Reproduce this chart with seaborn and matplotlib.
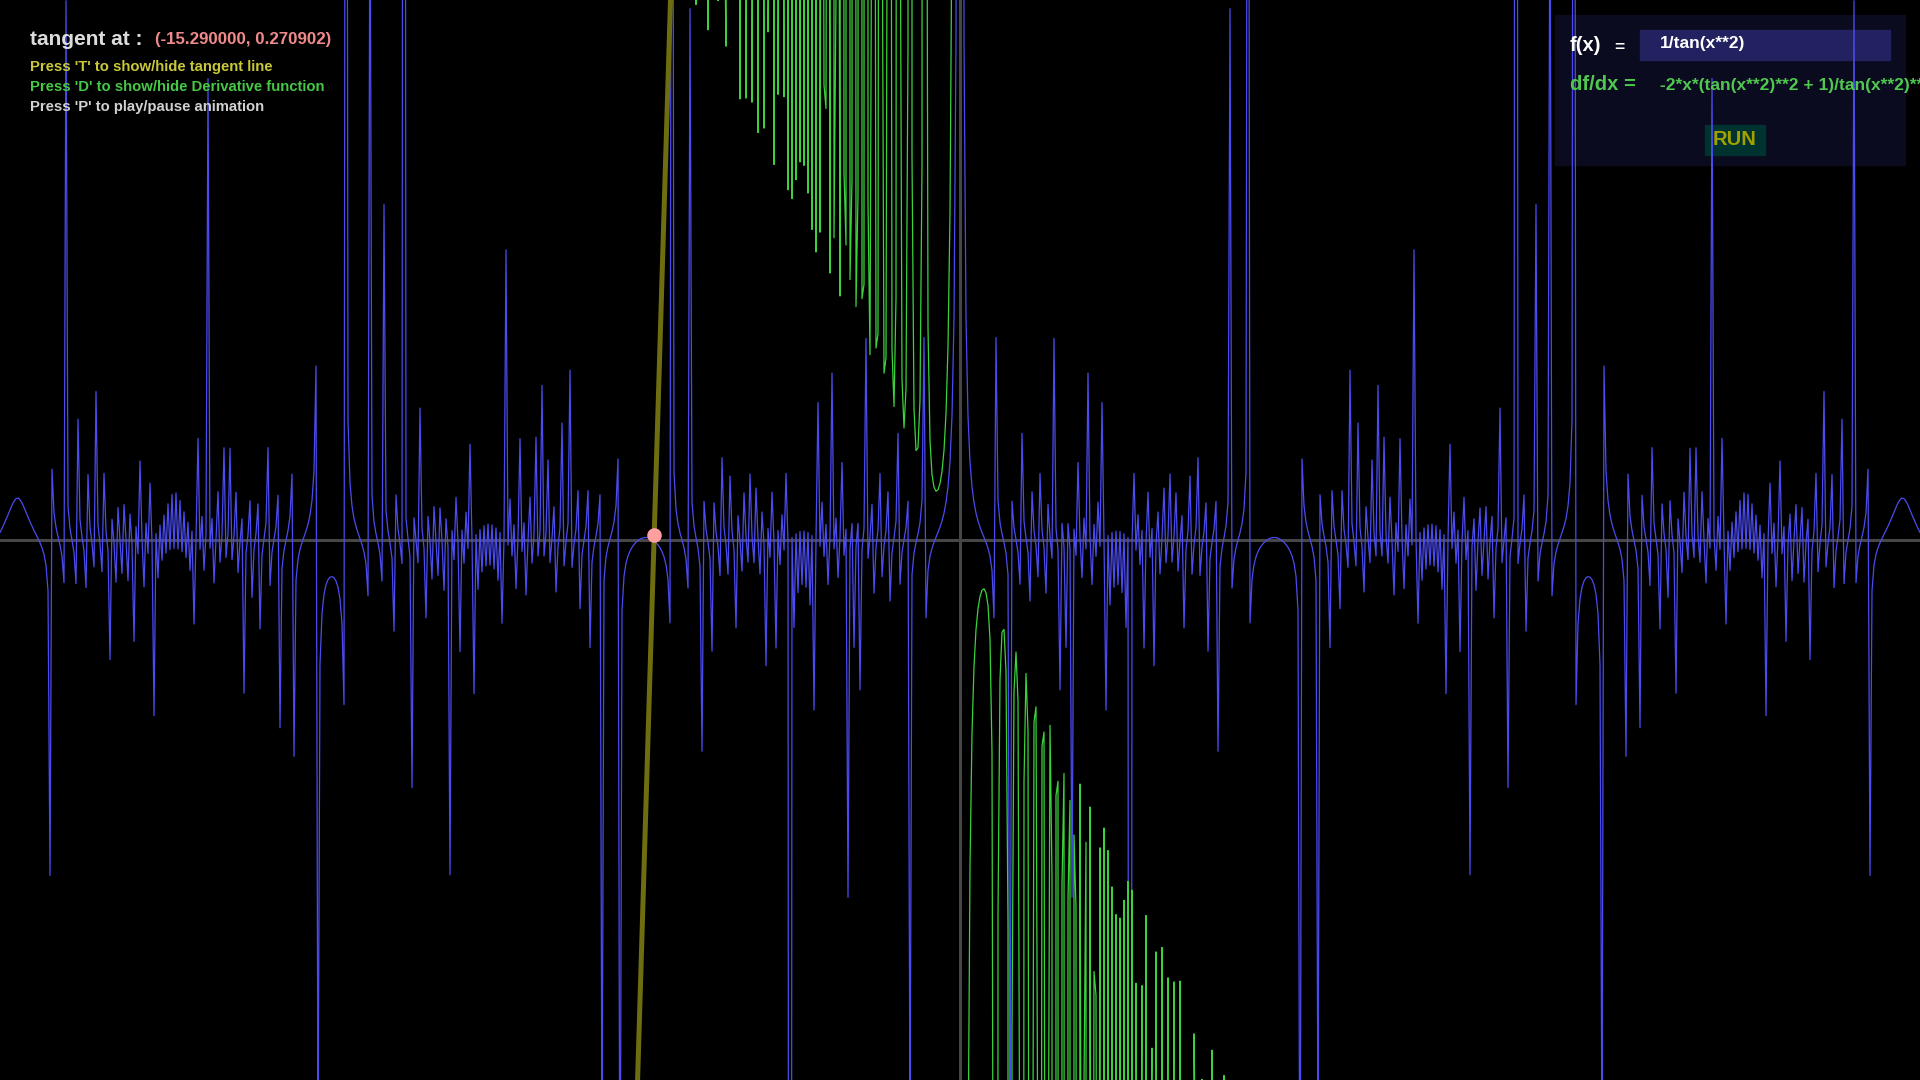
import numpy as np
import pandas as pd
import matplotlib.pyplot as plt
import seaborn as sns
from matplotlib.patches import Rectangle

sns.set_style("dark")
plt.rcParams["font.family"] = ["Liberation Sans", "DejaVu Sans"]

# view: 20 px per unit
x_min, x_max = -48.0, 48.0
y_min, y_max = -27.0, 27.0
x_step = 0.1

fx_label = "1/tan(x**2)"
dfdx_label = "-2*x*(tan(x**2)**2 + 1)/tan(x**2)**2"
tangent_x = -15.29

help_lines = [
    "Press 'T' to show/hide tangent line",
    "Press 'D' to show/hide Derivative function",
    "Press 'P' to play/pause animation",
]
help_colors = ["#c8c83c", "#46c846", "#d2d2d2"]

# %% curves from the formula shown in the chart
xs = np.arange(-480, 481) * x_step
with np.errstate(divide="ignore", invalid="ignore"):
    f = 1 / np.tan(xs ** 2)
    df = -2 * xs * (np.tan(xs ** 2) ** 2 + 1) / np.tan(xs ** 2) ** 2
f = np.where(np.isfinite(f), np.clip(f, -1e4, 1e4), np.nan)
df = np.where(np.isfinite(df), np.clip(df, -1e4, 1e4), np.nan)
curves = pd.DataFrame({"x": xs, "f": f, "df": df})
# break the lines where the function is undefined (x = 0)
curves["seg_f"] = curves["f"].isna().cumsum()
curves["seg_df"] = curves["df"].isna().cumsum()

ty = 1 / np.tan(tangent_x ** 2)
slope = -2 * tangent_x * (np.tan(tangent_x ** 2) ** 2 + 1) / np.tan(tangent_x ** 2) ** 2
tang = pd.DataFrame({"x": [x_min, x_max]})
tang["y"] = ty + slope * (tang["x"] - tangent_x)

# %%
fig = plt.figure(figsize=(19.2, 10.8), dpi=100, facecolor="black")
ax = fig.add_axes([0, 0, 1, 1])
ax.set_facecolor("black")
ax.set_axis_off()

# panel behind the curves
ax.add_patch(Rectangle((1555 / 1920, 1 - 165 / 1080), 350 / 1920, 150 / 1080,
                       transform=ax.transAxes, color="#0b0b1f", zorder=0))
ax.add_patch(Rectangle((1640 / 1920, 1 - 60 / 1080), 250 / 1920, 30 / 1080,
                       transform=ax.transAxes, color="#222260", zorder=0.5))
ax.add_patch(Rectangle((1705 / 1920, 1 - 155 / 1080), 60 / 1920, 30 / 1080,
                       transform=ax.transAxes, color="#003230", zorder=0.5))

ax.axhline(0, color="#464646", lw=2.2, zorder=1)
ax.axvline(0, color="#464646", lw=2.2, zorder=1)

sns.lineplot(data=curves.dropna(subset=["f"]), x="x", y="f", units="seg_f", ax=ax,
             color="#4b4bf0", lw=0.9, estimator=None, sort=False, zorder=2)
sns.lineplot(data=curves.dropna(subset=["df"]), x="x", y="df", units="seg_df", ax=ax,
             color="#3cd23c", lw=0.9, estimator=None, sort=False, zorder=2)
sns.lineplot(data=tang, x="x", y="y", ax=ax, color="#6e6e10", lw=3.6,
             estimator=None, sort=False, zorder=3)
ax.scatter([tangent_x], [ty], s=110, color="#ff9f9f", zorder=4, linewidths=0)
ax.set_xlim(x_min, x_max)
ax.set_ylim(y_min, y_max)

# %% texts (pixel positions from the top-left)
def put(px, py, s, color, size, weight="bold", va="baseline"):
    fig.text(px / 1920, 1 - py / 1080, s, color=color, fontsize=size,
             fontweight=weight, va=va, ha="left", zorder=10)

put(30, 45, "tangent at :", "#dcdcdc", 15)
put(155, 44, f"({tangent_x:.6f}, {ty:.6f})", "#f08a8a", 12.2)
for i, (s, c) in enumerate(zip(help_lines, help_colors)):
    put(30, 71 + 20 * i, s, c, 10.7)

put(1570, 51, "f(x)", "#ffffff", 14.5)
put(1614, 52, "=", "#ffffff", 12.5)
put(1660, 48, fx_label, "#ffffff", 12.5)
put(1570, 90, "df/dx =", "#50c850", 14.5)
put(1660, 90, dfdx_label, "#50c850", 12.5)
put(1713, 145, "RUN", "#a0a000", 14.5)

fig.savefig("out.png", dpi=100, facecolor="black")
